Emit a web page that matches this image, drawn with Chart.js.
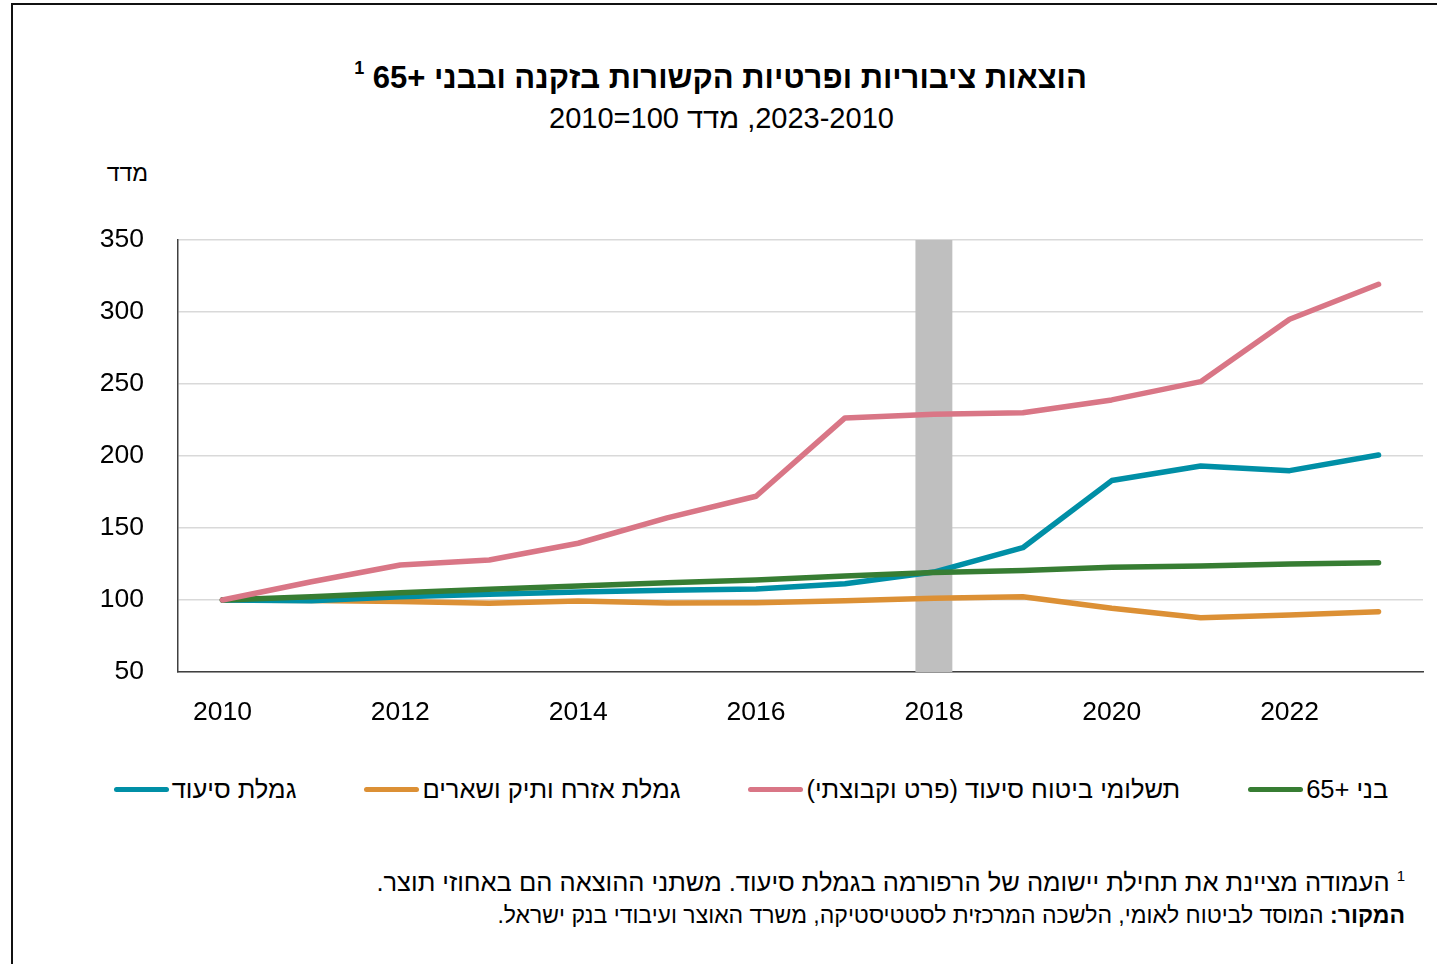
<!DOCTYPE html>
<html lang="he">
<head>
<meta charset="utf-8">
<script src="https://cdn.jsdelivr.net/npm/chart.js@4"></script>
<style>
  html, body { margin: 0; padding: 0; background: #fff; }
  body { width: 1437px; height: 964px; position: relative; overflow: hidden;
         font-family: "Liberation Sans Narrow", "Liberation Sans", "DejaVu Sans", sans-serif; color: #000; }
  #frame { position: absolute; left: 11px; top: 3px; width: 1440px; height: 980px;
           border-left: 2px solid #111; border-top: 2px solid #111; }
  #title { position: absolute; left: 0; width: 1441px; top: 58px; text-align: center;
           font-size: 31px; font-weight: bold; }
  #title sup { font-size: 18px; vertical-align: 14px; }
  #subtitle { position: absolute; left: 0; width: 1443px; top: 102px; text-align: center; font-size: 29px; }
  #ytitle { position: absolute; right: 1289px; top: 160px; font-size: 23px; }
  #wrap { position: absolute; left: 0; top: 190px; width: 1437px; height: 545px; }
  #legend { position: absolute; left: 0; width: 1502px; top: 775px; display: flex;
            justify-content: center; gap: 68px; font-size: 25.5px; }
  .item { display: flex; align-items: center; gap: 3px; }
  .swatch { width: 55px; height: 5px; border-radius: 3px; }
  #notes { position: absolute; right: 32px; top: 867px; text-align: right; }
  #note1 { font-size: 25.5px; }
  #note1 sup { font-size: 15px; vertical-align: 10px; }
  #note2 { font-size: 23px; margin-top: 5px; }
</style>
</head>
<body>
<div id="frame"></div>
<div id="title" dir="rtl">הוצאות ציבוריות ופרטיות הקשורות בזקנה ובבני +65 <sup>1</sup></div>
<div id="subtitle" dir="rtl"><bdi dir="ltr">2023-2010</bdi>, מדד <bdi dir="ltr">2010=100</bdi></div>
<div id="ytitle" dir="rtl">מדד</div>
<div id="wrap"><canvas id="myChart"></canvas></div>
<div id="legend" dir="rtl"></div>
<div id="notes" dir="rtl">
  <div id="note1"><sup>1</sup> העמודה מציינת את תחילת יישומה של הרפורמה בגמלת סיעוד. משתני ההוצאה הם באחוזי תוצר.</div>
  <div id="note2"><b>המקור:</b> המוסד לביטוח לאומי, הלשכה המרכזית לסטטיסטיקה, משרד האוצר ועיבודי בנק ישראל.</div>
</div>
<script>
// שנים
const years = ['2010', '2011', '2012', '2013', '2014', '2015', '2016',
               '2017', '2018', '2019', '2020', '2021', '2022', '2023'];
const reformYear = '2018';
const yTicks = [50, 100, 150, 200, 250, 300, 350];

// סדרות (מדד 2010=100)
const seniors65 = [100, 102.3, 105, 107.4, 109.7, 112, 113.9, 116.7, 119, 120.4, 122.7, 123.6, 125, 125.9];
const ltcInsurance = [100, 112.7, 124.3, 127.8, 139.4, 157, 172, 226.4, 229, 230, 238.9, 251.6, 294.9, 319.2];
const oldAgeBenefit = [100, 99.6, 99, 97.7, 99.3, 97.9, 98.1, 99.5, 101.2, 102.3, 94.2, 87.7, 89.6, 91.9];
const ltcBenefit = [100, 99.5, 102.3, 104, 105.5, 106.8, 107.6, 111.3, 119.4, 136.3, 182.9, 193, 189.8, 200.7];

const series = [
    { label: 'בני +65', data: seniors65, color: '#377d33', order: 1 },
    { label: 'תשלומי ביטוח סיעוד (פרט וקבוצתי)', data: ltcInsurance, color: '#d97686', order: 0 },
    { label: 'גמלת אזרח ותיק ושארים', data: oldAgeBenefit, color: '#dc9035', order: 3 },
    { label: 'גמלת סיעוד', data: ltcBenefit, color: '#008fa6', order: 2 }
];

var ctx = document.getElementById('myChart').getContext('2d');

var datasets = series.map(s => ({
    type: 'line',
    label: s.label,
    data: s.data,
    borderColor: s.color,
    backgroundColor: s.color,
    borderWidth: 5.5,
    borderCapStyle: 'round',
    borderJoinStyle: 'round',
    pointRadius: 0,
    tension: 0,
    order: s.order
}));

// עמודת הרפורמה
datasets.push({
    type: 'bar',
    label: 'reform',
    data: years.map(y => y === reformYear ? 350 : null),
    backgroundColor: '#bfbfbf',
    barPercentage: 0.415,
    categoryPercentage: 1,
    order: 10
});

var chart = new Chart(ctx, {
    data: { labels: years, datasets: datasets },
    options: {
        responsive: true,
        maintainAspectRatio: false,
        animation: false,
        events: [],
        layout: { padding: { top: 0, right: 14, bottom: 3, left: 0 } },
        plugins: { legend: { display: false }, tooltip: { enabled: false } },
        scales: {
            x: {
                offset: true,
                grid: { display: false, drawTicks: false },
                border: { display: true, color: '#404040', width: 1.5 },
                ticks: {
                    autoSkip: false,
                    maxRotation: 0,
                    padding: 25,
                    color: '#000',
                    font: { family: 'Liberation Sans', size: 26.5 },
                    callback: function (v, i) { return i % 2 === 0 ? years[i] : ''; }
                },
                afterFit: function (s) { s.height = 60; }
            },
            y: {
                min: 50,
                max: 350,
                afterBuildTicks: function (s) { s.ticks = yTicks.map(v => ({ value: v })); },
                grid: { color: '#d9d9d9', lineWidth: 1.5, drawTicks: false },
                border: { display: true, color: '#404040', width: 1.5 },
                ticks: {
                    padding: 34,
                    color: '#000',
                    font: { family: 'Liberation Sans', size: 26.5 }
                },
                afterFit: function (s) { s.width = 178; }
            }
        }
    }
});

// מקרא
var legend = document.getElementById('legend');
series.forEach(s => {
    var item = document.createElement('div');
    item.className = 'item';
    var txt = document.createElement('span');
    txt.textContent = s.label;
    var sw = document.createElement('span');
    sw.className = 'swatch';
    sw.style.background = s.color;
    item.appendChild(txt);
    item.appendChild(sw);
    legend.appendChild(item);
});
</script>
</body>
</html>
